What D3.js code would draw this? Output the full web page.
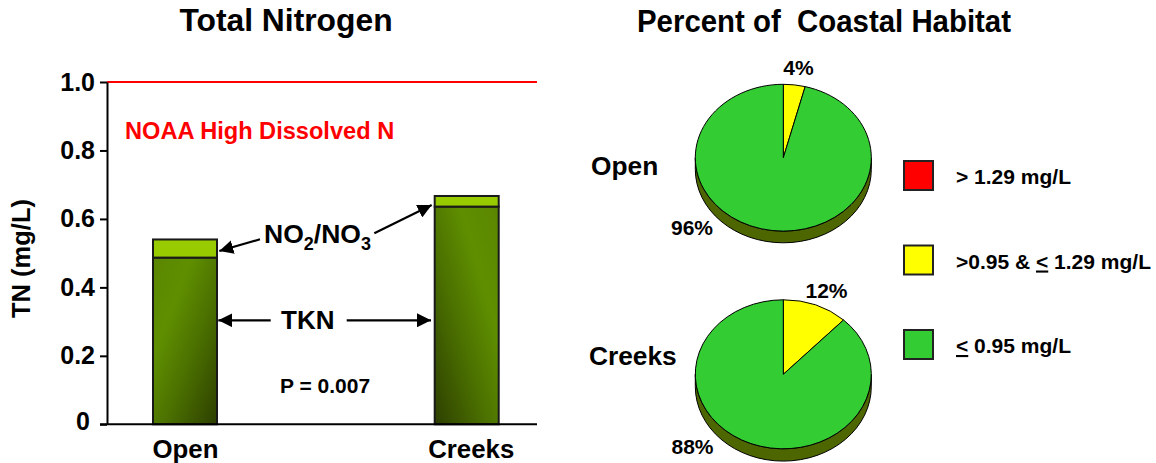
<!DOCTYPE html>
<html>
<head>
<meta charset="utf-8">
<script src="https://d3js.org/d3.v7.min.js"></script>
<style>
    html, body { margin: 0; padding: 0; background: #fff; }
    svg { display: block; }
    text { font-family: "Liberation Sans", Arial, sans-serif; font-weight: bold; fill: #000; }
</style>
</head>
<body>
<div id="chart"></div>
<script>
// bar chart values
const sites = ["Open", "Creeks"];
const tkn = [0.487, 0.636];
const no2no3 = [0.053, 0.031];
const yTicks = [0, 0.2, 0.4, 0.6, 0.8, 1.0];
const noaaLimit = 1.0;

// pie values, percent of coastal habitat
const classes = ["> 1.29 mg/L", ">0.95 & < 1.29 mg/L", "< 0.95 mg/L"];
const classColors = ["#ff0000", "#ffff00", "#33cc33"];
const openPercent = [0, 4, 96];
const creeksPercent = [0, 12, 88];

const width = 1156;
const height = 463;

const svg = d3.select("#chart").append("svg")
    .attr("width", width)
    .attr("height", height);

const defs = svg.append("defs");

// arrow head for the annotations
defs.append("marker")
    .attr("id", "head")
    .attr("markerUnits", "userSpaceOnUse")
    .attr("viewBox", "0 0 14 14")
    .attr("refX", 14)
    .attr("refY", 7)
    .attr("markerWidth", 14)
    .attr("markerHeight", 14)
    .attr("orient", "auto")
    .append("path")
    .attr("d", "M0,0L14,7L0,14Z")
    .attr("fill", "#000");

// the two bars shade in opposite directions
function addGradient(id, x1, y1, x2, y2) {
    const g = defs.append("linearGradient")
        .attr("id", id)
        .attr("x1", x1).attr("y1", y1)
        .attr("x2", x2).attr("y2", y2);
    g.append("stop").attr("offset", 0).attr("stop-color", "#5a8600");
    g.append("stop").attr("offset", 0.3).attr("stop-color", "#5f8f00");
    g.append("stop").attr("offset", 0.6).attr("stop-color", "#4b7000");
    g.append("stop").attr("offset", 1).attr("stop-color", "#2d3f00");
}
addGradient("barOpen", "0%", "0%", "100%", "100%");
addGradient("barCreeks", "100%", "0%", "0%", "100%");

drawBars();
drawPie(openPercent, "Open", 783.3, 157.7, 88, 73.4, 11.7, [
    { text: "4%", x: 798.5, y: 75 },
    { text: "96%", x: 692, y: 235 }
], 591, 175);
drawPie(creeksPercent, "Creeks", 783.3, 374.3, 88, 74.5, 12.3, [
    { text: "12%", x: 826.5, y: 298 },
    { text: "88%", x: 692.5, y: 454 }
], 589, 365);
drawLegend();

function drawBars() {
    const x = d3.scalePoint().domain(sites).range([185, 466.7]);
    const y = d3.scaleLinear().domain([0, 1]).range([424.3, 82]);
    const barWidth = 64;

    svg.append("text")
        .attr("x", 286).attr("y", 31)
        .attr("text-anchor", "middle")
        .style("font-size", "31.8px")
        .text("Total Nitrogen");

    // stacked bars
    sites.forEach((site, i) => {
        svg.append("rect")
            .attr("x", x(site) - barWidth / 2)
            .attr("y", y(tkn[i]))
            .attr("width", barWidth)
            .attr("height", y(0) - y(tkn[i]))
            .attr("fill", i === 0 ? "url(#barOpen)" : "url(#barCreeks)")
            .attr("stroke", "#1a1a1a")
            .attr("stroke-width", 2);
        svg.append("rect")
            .attr("x", x(site) - barWidth / 2)
            .attr("y", y(tkn[i] + no2no3[i]))
            .attr("width", barWidth)
            .attr("height", y(tkn[i]) - y(tkn[i] + no2no3[i]))
            .attr("fill", "#99cc00")
            .attr("stroke", "#1a1a1a")
            .attr("stroke-width", 2);
    });

    // NOAA line
    svg.append("line")
        .attr("x1", 107).attr("x2", 537)
        .attr("y1", y(noaaLimit)).attr("y2", y(noaaLimit))
        .attr("stroke", "#ff0000")
        .attr("stroke-width", 2);

    // axes
    const yAxis = svg.append("g")
        .attr("transform", "translate(107,0)")
        .call(d3.axisLeft(y)
            .tickValues(yTicks)
            .tickFormat(d => d === 0 ? "0" : d3.format(".1f")(d))
            .tickSize(7)
            .tickSizeOuter(0)
            .tickPadding(5));
    yAxis.selectAll("line, path").attr("stroke", "#000").attr("stroke-width", 2);
    yAxis.selectAll("text")
        .attr("fill", "#000")
        .style("font-size", "25px")
        .style("font-family", "'Liberation Sans', Arial, sans-serif");
    // the zero sits further from the axis than the other labels
    yAxis.selectAll("text").filter(d => d === 0).attr("dx", -5).attr("dy", "0.22em");

    const xAxis = svg.append("g")
        .attr("transform", `translate(0,${y(0)})`)
        .call(d3.axisBottom(x).tickSize(0).tickPadding(15));
    xAxis.select("path")
        .attr("d", "M100,0H537")
        .attr("stroke", "#000")
        .attr("stroke-width", 2);
    xAxis.selectAll("text")
        .attr("fill", "#000")
        .attr("dx", d => d === "Creeks" ? 4 : 0)
        .style("font-size", "25.8px")
        .style("font-family", "'Liberation Sans', Arial, sans-serif");

    svg.append("text")
        .attr("transform", "translate(30,258.5) rotate(-90)")
        .attr("text-anchor", "middle")
        .style("font-size", "25.5px")
        .text("TN (mg/L)");

    svg.append("text")
        .attr("x", 125).attr("y", 138.5)
        .style("font-size", "23.6px")
        .style("fill", "#ff0000")
        .text("NOAA High Dissolved N");

    // annotations
    const no = svg.append("text")
        .attr("x", 264).attr("y", 243)
        .style("font-size", "26.5px");
    no.append("tspan").text("NO");
    no.append("tspan").attr("dy", 7).style("font-size", "18px").text("2");
    no.append("tspan").attr("dy", -7).text("/NO");
    no.append("tspan").attr("dy", 7).style("font-size", "18px").text("3");

    svg.append("text")
        .attr("x", 281).attr("y", 329)
        .style("font-size", "26px")
        .text("TKN");

    svg.append("text")
        .attr("x", 280).attr("y", 393)
        .style("font-size", "21px")
        .text("P = 0.007");

    const arrows = [
        [260, 239.3, 219.3, 251],
        [374.3, 233.3, 431.7, 205],
        [270.7, 320.3, 218.3, 320.3],
        [346.7, 320.3, 431, 320.3]
    ];
    svg.selectAll(".arrow")
        .data(arrows)
        .enter()
        .append("line")
        .attr("class", "arrow")
        .attr("x1", d => d[0]).attr("y1", d => d[1])
        .attr("x2", d => d[2]).attr("y2", d => d[3])
        .attr("stroke", "#000")
        .attr("stroke-width", 2.2)
        .attr("marker-end", "url(#head)");
}

function drawPie(values, name, cx, cy, rx, ry, depth, labels, nameX, nameY) {
    // rim under the pie
    svg.append("path")
        .attr("d", `M${cx - rx},${cy}A${rx},${ry} 0 0 0 ${cx + rx},${cy}V${cy + depth}A${rx},${ry} 0 0 1 ${cx - rx},${cy + depth}Z`)
        .attr("fill", "#4d6600")
        .attr("stroke", "#000")
        .attr("stroke-width", 1);

    const pie = d3.pie().sort(null);
    const arc = d3.arc().innerRadius(0).outerRadius(rx);

    svg.append("g")
        .attr("transform", `translate(${cx},${cy}) scale(1,${ry / rx})`)
        .selectAll("path")
        .data(pie(values))
        .enter()
        .append("path")
        .attr("d", arc)
        .attr("fill", (d, i) => classColors[i])
        .attr("stroke", "#000")
        .attr("stroke-width", 1)
        .attr("vector-effect", "non-scaling-stroke");

    svg.append("text")
        .attr("x", nameX).attr("y", nameY)
        .style("font-size", "26.3px")
        .text(name);

    svg.selectAll(null)
        .data(labels)
        .enter()
        .append("text")
        .attr("x", d => d.x).attr("y", d => d.y)
        .attr("text-anchor", "middle")
        .style("font-size", "21px")
        .text(d => d.text);
}

function drawLegend() {
    svg.append("text")
        .attr("x", 637).attr("y", 32)
        .attr("xml:space", "preserve")
        .attr("textLength", 374)
        .attr("lengthAdjust", "spacingAndGlyphs")
        .style("font-size", "31px")
        .style("white-space", "pre")
        .text("Percent of  Coastal Habitat");

    const ly = d3.scalePoint().domain(classes).range([175.5, 344.5]);

    classes.forEach((c, i) => {
        svg.append("rect")
            .attr("x", 904).attr("y", ly(c) - 14.5)
            .attr("width", 29).attr("height", 29)
            .attr("fill", classColors[i])
            .attr("stroke", "#222")
            .attr("stroke-width", 2);

        // the "<" is underlined to read as less than or equal
        const t = svg.append("text")
            .attr("x", 956).attr("y", ly(c) + 8.5)
            .style("font-size", "21px");
        c.split(/(<)/).forEach(part => {
            if (!part) return;
            const span = t.append("tspan").text(part);
            if (part === "<") span.style("text-decoration", "underline");
        });
    });
}
</script>
</body>
</html>
